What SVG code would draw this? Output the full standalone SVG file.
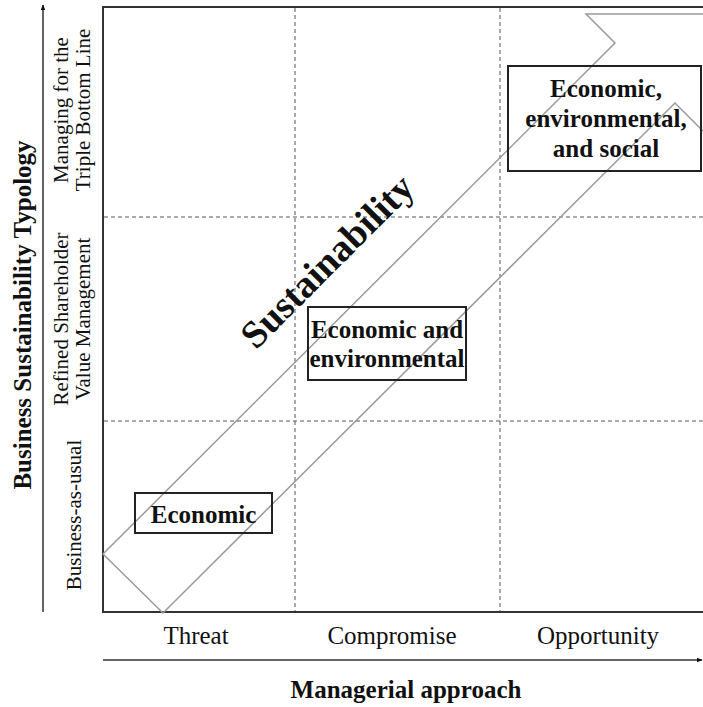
<svg xmlns="http://www.w3.org/2000/svg" width="703" height="707" viewBox="0 0 703 707">
<defs>
<style>
.serif{font-family:"Liberation Serif","Times New Roman",serif;fill:#111}
.b{font-weight:bold}
.frame{fill:none;stroke:#333;stroke-width:2}
.grid{fill:none;stroke:#555;stroke-width:1;stroke-dasharray:4,3}
.band{fill:none;stroke:#9a9a9a;stroke-width:1.5}
.box{fill:none;stroke:#222;stroke-width:2}
.axis{fill:none;stroke:#333;stroke-width:1.5}
</style>
<marker id="ah" viewBox="0 0 10 10" refX="9" refY="5" markerWidth="6" markerHeight="6" orient="auto" markerUnits="userSpaceOnUse">
<path d="M0,1 L10,5 L0,9 Z" fill="#111"/>
</marker>
</defs>
<rect width="703" height="707" fill="#fff"/>
<g id="grid">
<line class="grid" x1="295" y1="8" x2="295" y2="611"/>
<line class="grid" x1="500" y1="8" x2="500" y2="611"/>
<line class="grid" x1="104" y1="217" x2="703" y2="217"/>
<line class="grid" x1="104" y1="421" x2="703" y2="421"/>
</g>
<g id="frame">
<path class="frame" d="M703,7 H103 V612 H703"/>
</g>
<g id="connectors">
<line class="axis" x1="43" y1="612" x2="43" y2="5" marker-end="url(#ah)"/>
<line class="axis" x1="103" y1="660" x2="702" y2="660" marker-end="url(#ah)"/>
<polyline class="band" points="703,14 586,14 615,43 103,554 163,613 675,103 703,131"/>
</g>
<g id="sustainability">
<text class="serif b" font-size="38.5" text-anchor="middle" transform="translate(327,261) rotate(-45)" y="13">Sustainability</text>
</g>
<g id="node-economic">
<rect class="box" x="135" y="493" width="137" height="40"/>
<text class="serif b" font-size="25" x="203.5" y="523" text-anchor="middle">Economic</text>
</g>
<g id="node-econ-env">
<rect class="box" x="308" y="307" width="158" height="73"/>
<text class="serif b" font-size="25" x="387" y="338" text-anchor="middle">Economic and</text>
<text class="serif b" font-size="25" x="387" y="367" text-anchor="middle">environmental</text>
</g>
<g id="node-econ-env-social">
<rect class="box" x="508" y="66" width="193" height="105"/>
<text class="serif b" font-size="25" x="606" y="97" text-anchor="middle">Economic,</text>
<text class="serif b" font-size="25" x="606" y="127" text-anchor="middle">environmental,</text>
<text class="serif b" font-size="25" x="606" y="157" text-anchor="middle">and social</text>
</g>
<g id="y-labels">
<text class="serif b" font-size="25" text-anchor="middle" transform="translate(31,315) rotate(-90)">Business Sustainability Typology</text>
<text class="serif" font-size="21" text-anchor="middle" transform="translate(68,110) rotate(-90)">Managing for the</text>
<text class="serif" font-size="21" text-anchor="middle" transform="translate(90,110) rotate(-90)">Triple Bottom Line</text>
<text class="serif" font-size="21" text-anchor="middle" transform="translate(68,319) rotate(-90)">Refined Shareholder</text>
<text class="serif" font-size="21" text-anchor="middle" transform="translate(90,319) rotate(-90)">Value Management</text>
<text class="serif" font-size="21" text-anchor="middle" transform="translate(81,515) rotate(-90)">Business-as-usual</text>
</g>
<g id="x-labels">
<text class="serif" font-size="25" x="196" y="644" text-anchor="middle">Threat</text>
<text class="serif" font-size="25" x="392" y="644" text-anchor="middle">Compromise</text>
<text class="serif" font-size="25" x="598" y="644" text-anchor="middle">Opportunity</text>
<text class="serif b" font-size="25" x="406" y="698" text-anchor="middle">Managerial approach</text>
</g>
</svg>
